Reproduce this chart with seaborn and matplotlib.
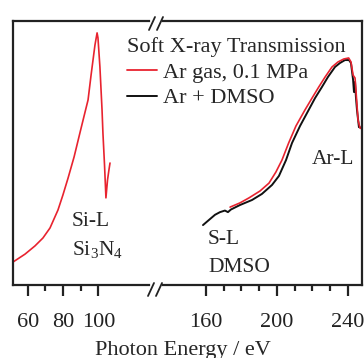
import numpy as np
import pandas as pd
import matplotlib
matplotlib.use("Agg")
import matplotlib.pyplot as plt
from matplotlib.lines import Line2D
from matplotlib.ticker import FixedLocator
import seaborn as sns

# ---- data ----
si_energy = [51.7, 58.5, 64.1, 68.6, 72.6, 77.1, 79.9, 82.8, 86.2, 89.5, 92.4, 94.1,
             95.8, 96.9, 98.0, 99.2, 99.7, 100.8, 102.0, 102.5, 103.4, 104.2, 105.1,
             105.9, 106.5]
si_trans = [8.7, 11.7, 14.8, 17.8, 21.6, 28.4, 34.1, 40.5, 48.5, 57.6, 65.5, 70.1,
            79.5, 85.2, 90.9, 95.5, 93.6, 82.6, 66.3, 57.6, 45.5, 33.0, 39.8,
            43.6, 46.2]

dmso_energy = [158.3, 162.3, 165.1, 167.9, 170.7, 172.4, 174.1, 179.2, 186.0, 191.6,
               197.3, 201.2, 205.2, 208.6, 213.1, 218.0, 221.6, 225.5, 228.9, 232.9,
               235.7, 238.5, 240.8, 241.9, 243.1, 243.6, 244.2, 244.7, 245.3, 246.4,
               248.1]
dmso_trans = [22.7, 25.0, 26.6, 27.6, 28.2, 27.6, 28.6, 30.3, 32.2, 34.5,
              37.9, 41.3, 47.3, 53.8, 60.2, 66.3, 70.8, 75.0, 78.8, 82.6,
              84.1, 85.2, 85.2, 84.1, 77.7, 73.1, 76.9, 71.2, 66.3, 59.8,
              59.5]

ar_energy = [173.6, 179.2, 184.3, 190.5, 195.6, 199.5, 202.9, 206.7, 210.8, 215.9,
             219.9, 223.7, 227.3, 231.2, 234.6, 237.8, 240.6, 241.9, 243.1, 244.2,
             244.7, 245.9, 247.0, 248.1]
ar_trans = [29.5, 31.1, 33.0, 35.6, 38.6, 42.8, 47.3, 53.8, 60.2, 66.3,
            70.8, 75.0, 78.8, 82.6, 84.5, 85.6, 86.0, 84.5, 79.5, 78.4,
            73.9, 62.5, 59.5, 59.1]

left_major = [60, 80, 100]
left_minor = [70, 90]
right_major = [160, 200, 240]
right_minor = [170, 180, 190, 210, 220, 230]

legend_title = "Soft X-ray Transmission"
label_ar = "Ar gas, 0.1 MPa"
label_dmso = "Ar + DMSO"
xlabel = "Photon Energy / eV"

RED = "#e8232f"
BLACK = "#111111"

sns.set_style("white")
plt.rcParams["font.family"] = ["Liberation Serif", "DejaVu Serif"]
plt.rcParams["mathtext.default"] = "regular"

W, H = 364, 358
fig = plt.figure(figsize=(W / 100, H / 100), dpi=100)

def fx(px):
    return px / W

def fy(py):
    return 1 - py / H

y_top, y_bot = 21, 285
axL = fig.add_axes([fx(13), fy(y_bot), fx(149) - fx(13), fy(y_top) - fy(y_bot)])
axR = fig.add_axes([fx(163), fy(y_bot), fx(362) - fx(163), fy(y_top) - fy(y_bot)])

scale = 1.77  # px per eV
axL.set_xlim(60 - (27.7 - 13) / scale, 60 + (149 - 27.7) / scale)
axR.set_xlim(160 - (206 - 163) / scale, 160 + (362 - 206) / scale)
for ax in (axL, axR):
    ax.set_ylim(0, 100)
    ax.set_facecolor("none")

si_df = pd.DataFrame({"energy": si_energy, "trans": si_trans})
dmso_df = pd.DataFrame({"energy": dmso_energy, "trans": dmso_trans})
ar_df = pd.DataFrame({"energy": ar_energy, "trans": ar_trans})

sns.lineplot(data=si_df, x="energy", y="trans", ax=axL, color=RED, lw=1.2,
             sort=False, estimator=None)
sns.lineplot(data=dmso_df, x="energy", y="trans", ax=axR, color=BLACK, lw=1.4,
             sort=False, estimator=None)
sns.lineplot(data=ar_df, x="energy", y="trans", ax=axR, color=RED, lw=1.2,
             sort=False, estimator=None)

for ax in (axL, axR):
    ax.set_xlabel("")
    ax.set_ylabel("")
    ax.set_yticks([])
    for s in ax.spines.values():
        s.set_linewidth(1.6)
        s.set_color("#222222")
    ax.tick_params(axis="x", which="major", direction="out", length=8, width=1.6,
                   labelsize=16, pad=12, colors="#222222", bottom=True)
    ax.tick_params(axis="x", which="minor", direction="out", length=4, width=1.6,
                   bottom=True, colors="#222222")

axL.spines["right"].set_visible(False)
axR.spines["left"].set_visible(False)
axL.xaxis.set_major_locator(FixedLocator(left_major))
axL.xaxis.set_minor_locator(FixedLocator(left_minor))
axL.set_xticklabels([str(v) for v in left_major])
axR.xaxis.set_major_locator(FixedLocator(right_major))
axR.xaxis.set_minor_locator(FixedLocator(right_minor))
axR.set_xticklabels([str(v) for v in right_major])

# break marks
for (x0, y0, x1, y1) in [(148, 296, 154, 283), (156, 296, 162, 283),
                         (149, 30, 155, 17), (157, 30, 163, 17)]:
    fig.add_artist(Line2D([fx(x0), fx(x1)], [fy(y0), fy(y1)], color="#222222",
                          lw=1.3, transform=fig.transFigure))

# legend
handles = [Line2D([], [], color=RED, lw=1.3), Line2D([], [], color=BLACK, lw=1.4)]
leg = fig.legend(handles, [label_ar, label_dmso], title=legend_title,
                 loc="upper left", bbox_to_anchor=(fx(111), fy(22)),
                 frameon=False, fontsize=16, title_fontsize=16,
                 handlelength=1.35, handletextpad=0.3, labelspacing=0.22,
                 borderpad=0.2, alignment="left")

# annotations
fs = 15.5
fig.text(fx(312), fy(160), "Ar-L", fontsize=fs, va="center", ha="left")
fig.text(fx(72), fy(221), "Si-L", fontsize=fs, va="center", ha="left")
fig.text(fx(72), fy(249), "Si$_3$N$_4$", fontsize=fs, va="center", ha="left")
fig.text(fx(208), fy(240), "S-L", fontsize=fs, va="center", ha="left")
fig.text(fx(208), fy(267), "DMSO", fontsize=fs, va="center", ha="left")
fig.text(fx(183), fy(350), xlabel, fontsize=16, va="center", ha="center")

fig.savefig("out.png", dpi=100)
